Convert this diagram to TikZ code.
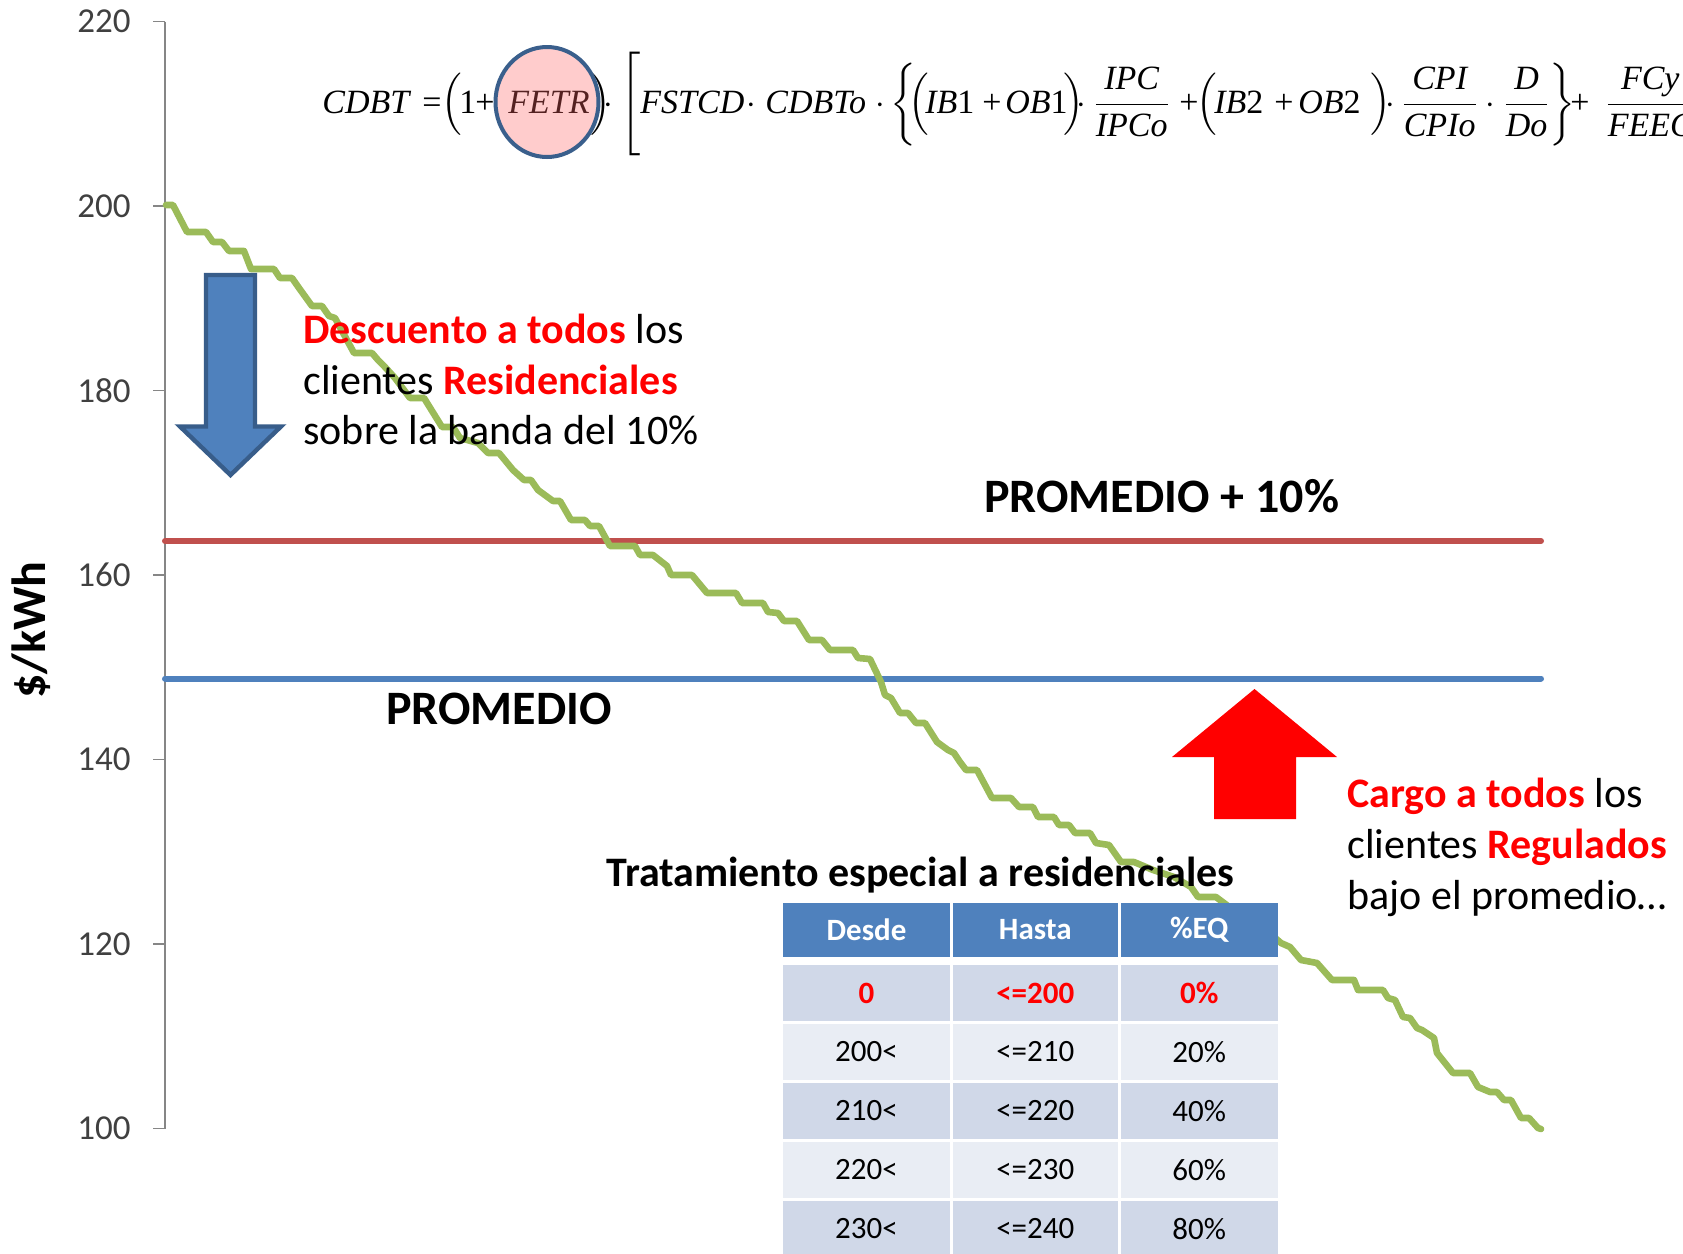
\documentclass[tikz,border=0pt]{standalone}
\usepackage{amsmath}
\usepackage{fontspec}
\setmainfont{Carlito}
\newfontfamily\fml{Liberation Serif}
\usetikzlibrary{shapes.geometric}
\definecolor{chartblue}{HTML}{4F81BD}
\definecolor{chartred}{HTML}{C0504D}
\definecolor{chartgreen}{HTML}{9BBB59}
\definecolor{arrowedge}{HTML}{385D8A}
\definecolor{bandone}{HTML}{D0D8E8}
\definecolor{bandtwo}{HTML}{E9EDF4}
\definecolor{ticklab}{HTML}{404040}
\definecolor{axisgray}{HTML}{868686}
\definecolor{circfill}{HTML}{FF6666}
\definecolor{circedge}{HTML}{3A5F8C}
\newcommand{\fv}[1]{\mbox{\fml\itshape #1}}
\newcommand{\fd}[1]{\mbox{\fml #1}}
\begin{document}
\begin{tikzpicture}[x=0.5pt,y=-0.5pt,
  ticklabel/.style={anchor=east, inner sep=0pt, text=ticklab, font=\fontsize{17.5pt}{20pt}\selectfont},
  bigbold/.style={anchor=base west, inner sep=0pt, font=\fontsize{24pt}{28pt}\selectfont\bfseries},
  note/.style={anchor=base west, inner sep=0pt, font=\fontsize{21pt}{25pt}\selectfont},
  cellbox/.style={inner sep=0pt, font=\fontsize{15.5pt}{18pt}\selectfont},
  hdrbox/.style={inner sep=0pt, text=white, font=\fontsize{15.5pt}{18pt}\selectfont\bfseries},
  redbox/.style={inner sep=0pt, text=red, font=\fontsize{15.5pt}{18pt}\selectfont\bfseries},
  tickmark/.style={draw=axisgray, line width=0.75pt},
  fpart/.style={anchor=base west, inner sep=0pt, font=\fontsize{17pt}{20pt}\fml\selectfont}
]
\useasboundingbox (0,0) rectangle (1683,1254);
\fill[white] (0,0) rectangle (1683,1254);

% axis
\coordinate (axtop) at (165,21.7);
\coordinate (axbot) at (165,1128.7);
\draw[axisgray, line width=0.75pt] (axtop) -- (axbot);
\foreach \v/\yy in {220/21.7,200/206.2,180/390.7,160/575.2,140/759.7,120/944.2,100/1128.7}{
  \draw[tickmark] (153,\yy) -- (165,\yy);
  \node[ticklabel] (tick\v) at (131,\yy) {\v};
}
\node[anchor=base, rotate=90, inner sep=0pt, font=\fontsize{24pt}{28pt}\selectfont\bfseries] (ylab) at (46,630) {\$/kWh};

% reference lines
\coordinate (redA) at (165,541);
\coordinate (redB) at (1541,541);
\coordinate (bluA) at (165,678.5);
\coordinate (bluB) at (1541,678.5);
\draw[chartred, line width=3pt, line cap=round] (redA) -- (redB);
\draw[chartblue, line width=3pt, line cap=round] (bluA) -- (bluB);

% staircase curve
\draw[chartgreen, line width=3.3pt, line join=round, line cap=round]
 (166,205) -- (173,205) -- (187,232) -- (206,232) -- (213,242) -- (222,242) -- (229,251) -- (244,251)
 -- (251,269) -- (274,269) -- (280,278) -- (292,278) -- (299,288) -- (312,306) -- (322,306) -- (329,316)
 -- (335,318) -- (354,353) -- (372,353) -- (378,360) -- (384,366) -- (395,378) -- (404,390) -- (410,398)
 -- (424,398) -- (442,427) -- (453,427) -- (460,438) -- (478,443) -- (488,453) -- (499,453) -- (513,470)
 -- (524,480) -- (531,480) -- (538,490) -- (553,501) -- (560,501) -- (571,520) -- (585,520) -- (590,526)
 -- (599,526) -- (610,546) -- (635,546) -- (640,555) -- (653,555) -- (667,566) -- (671,575) -- (692,575)
 -- (707,593) -- (736,593) -- (742,603) -- (763,603) -- (768,612) -- (778,613) -- (784,621) -- (797,621)
 -- (809,640) -- (822,640) -- (830,650) -- (853,650) -- (858,658) -- (870,659) -- (881,682) -- (885,695)
 -- (891,698) -- (900,713) -- (908,713) -- (916,723) -- (925,723) -- (937,742) -- (948,750) -- (954,753)
 -- (960,762) -- (966,770) -- (977,770) -- (992,798) -- (1011,798) -- (1019,807) -- (1033,807) -- (1038,817)
 -- (1054,817) -- (1059,825) -- (1069,825) -- (1075,833) -- (1090,833) -- (1096,843) -- (1109,845)
 -- (1121,862) -- (1134,862) -- (1153,870) -- (1174,877) -- (1191,887) -- (1198,897) -- (1216,897)
 -- (1240,915) -- (1260,925) -- (1281,943) -- (1290,947) -- (1301,960) -- (1317,963) -- (1332,980)
 -- (1354,980) -- (1358,990) -- (1383,990) -- (1388,998) -- (1395,1000) -- (1403,1017) -- (1410,1018)
 -- (1417,1028) -- (1422,1030) -- (1434,1038) -- (1437,1053) -- (1441,1058) -- (1453,1073) -- (1470,1073)
 -- (1478,1087) -- (1490,1092) -- (1497,1092) -- (1504,1100) -- (1511,1100) -- (1521,1118) -- (1529,1118)
 -- (1538,1128) -- (1541,1129);

% arrows
\fill[chartblue, draw=arrowedge, line width=2.2pt, line join=miter]
 (206,275) -- (255,275) -- (255,426.5) -- (281,426.5) -- (230.5,475) -- (180,426.5) -- (206,426.5) -- cycle;
\fill[red] (1214,819) -- (1296,819) -- (1296,757) -- (1337,757) -- (1254.5,689) -- (1172,757) -- (1214,757) -- cycle;

% formula, set piece by piece
\foreach \xx/\part [count=\k] in {
  322/{\itshape CDBT}, 422/{=}, 441/{$\Big($}, 459/{1}, 475/{+}, 508/{\itshape FETR},
  590/{$\Big)$}, 603/{$\cdot$}, 620/{$\Bigg[$}, 640/{\itshape FSTCD}, 746/{$\cdot$},
  765/{\itshape CDBTo}, 875/{$\cdot$}, 890/{$\bigg\{$}, 908/{$\Big($}, 925/{\itshape IB\upshape 1},
  982/{+}, 1005/{\itshape OB\upshape 1}, 1063/{$\Big)$}, 1076/{$\cdot$},
  1093/{$\dfrac{\fv{IPC}}{\fv{IPCo}}$}, 1179/{+}, 1196/{$\Big($}, 1214/{\itshape IB\upshape 2},
  1274/{+}, 1298/{\itshape OB\upshape 2}, 1370/{$\Big)$}, 1385/{$\cdot$},
  1401/{$\dfrac{\fv{CPI}}{\fv{CPIo}}$}, 1485/{$\cdot$}, 1503/{$\dfrac{\fv{D}}{\fv{Do}}$},
  1549/{$\bigg\}$}, 1570/{+}, 1605/{$\dfrac{\fv{FCy}}{\fv{FEEC}}$}}{
  \node[fpart] (fm\k) at (\xx,113) {\part};
}
\node[ellipse, inner sep=0pt, minimum width=51.5pt, minimum height=55pt, fill=circfill, fill opacity=0.33, draw=circedge, draw opacity=1, line width=2pt] (fetrc) at (547,102) {};

% labels
\node[bigbold] (prom10) at (984,512) {PROMEDIO + 10\%};
\node[bigbold] (prom) at (386,724) {PROMEDIO};

\node[note] (dl1) at (303,343) {\textcolor{red}{\bfseries Descuento a todos} los};
\node[note] (dl2) at (303,394) {clientes \textcolor{red}{\bfseries Residenciales}};
\node[note] (dl3) at (303,444) {sobre la banda del 10\%};

\node[note] (cl1) at (1347,807) {\textcolor{red}{\bfseries Cargo a todos} los};
\node[note] (cl2) at (1347,858) {clientes \textcolor{red}{\bfseries Regulados}};
\node[note] (cl3) at (1347,909) {bajo el promedio\ldots};

\node[note, font=\fontsize{21pt}{25pt}\selectfont\bfseries] (ttl) at (606,886) {Tratamiento especial a residenciales};

% table
\fill[chartblue] (783,903) rectangle (950,957);
\fill[chartblue] (953,903) rectangle (1117.5,957);
\fill[chartblue] (1120.5,903) rectangle (1278,957);
\node[hdrbox] (h1) at (866.5,930) {Desde};
\node[hdrbox] (h2) at (1035.25,930) {Hasta};
\node[hdrbox] (h3) at (1199.25,930) {\%EQ};
\foreach \r/\top/\col in {1/965/bandone,2/1024/bandtwo,3/1083/bandone,4/1142/bandtwo,5/1201/bandone}{
  \fill[\col] (783,\top) rectangle (950,\top+56);
  \fill[\col] (953,\top) rectangle (1117.5,\top+56);
  \fill[\col] (1120.5,\top) rectangle (1278,\top+56);
}
\node[redbox] (r1a) at (866.5,993) {0};
\node[redbox] (r1b) at (1035.25,993) {<=200};
\node[redbox] (r1c) at (1199.25,993) {0\%};
\node[cellbox] (r2a) at (866.5,1052) {200<};
\node[cellbox] (r2b) at (1035.25,1052) {<=210};
\node[cellbox] (r2c) at (1199.25,1052) {20\%};
\node[cellbox] (r3a) at (866.5,1111) {210<};
\node[cellbox] (r3b) at (1035.25,1111) {<=220};
\node[cellbox] (r3c) at (1199.25,1111) {40\%};
\node[cellbox] (r4a) at (866.5,1170) {220<};
\node[cellbox] (r4b) at (1035.25,1170) {<=230};
\node[cellbox] (r4c) at (1199.25,1170) {60\%};
\node[cellbox] (r5a) at (866.5,1229) {230<};
\node[cellbox] (r5b) at (1035.25,1229) {<=240};
\node[cellbox] (r5c) at (1199.25,1229) {80\%};
\end{tikzpicture}
\end{document}
